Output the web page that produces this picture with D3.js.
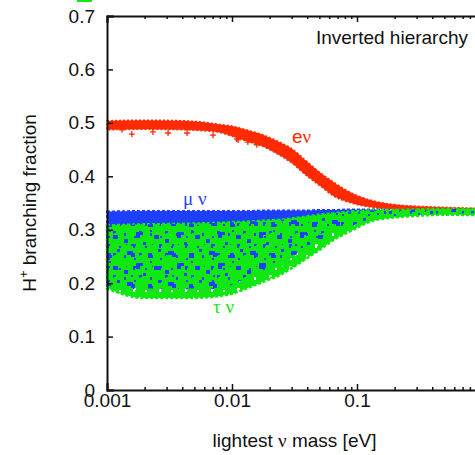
<!DOCTYPE html>
<html>
<head>
<meta charset="utf-8">
<script src="https://cdn.jsdelivr.net/npm/d3@7"></script>
<style>
  body { margin: 0; background: #fff; }
  svg { display: block; font-family: "Liberation Sans", Arial, sans-serif; }
  .axis text { font-size: 19px; fill: #111; }
  .axis .domain { stroke: #111; stroke-width: 2; }
  .axis line { stroke: #111; stroke-width: 1.5; }
  .greek { font-family: "Liberation Serif", serif; }
</style>
</head>
<body>
<svg width="475" height="455"></svg>
<script>
  // lightest neutrino mass grid [eV], shared by every band
  const mass = [0.001, 0.002, 0.004, 0.006, 0.008, 0.01, 0.013, 0.018, 0.025, 0.03,
    0.04, 0.05, 0.065, 0.09, 0.13, 0.2, 0.3, 0.5, 1];

  // e nu band (red)
  const eHi = [0.504, 0.505, 0.504, 0.501, 0.497, 0.494, 0.487, 0.477, 0.462, 0.452,
    0.427, 0.408, 0.389, 0.369, 0.355, 0.347, 0.344, 0.342, 0.340];
  const eLo = [0.487, 0.488, 0.487, 0.485, 0.482, 0.475, 0.466, 0.455, 0.437, 0.425,
    0.400, 0.383, 0.363, 0.350, 0.342, 0.338, 0.336, 0.335, 0.333];

  // mu nu band (blue)
  const muHi = [0.334, 0.335, 0.335, 0.335, 0.335, 0.335, 0.335, 0.336, 0.336, 0.336,
    0.336, 0.337, 0.337, 0.338, 0.338, 0.337, 0.336, 0.335, 0.334];
  const muLo = [0.195, 0.190, 0.190, 0.190, 0.192, 0.197, 0.210, 0.222, 0.240, 0.250,
    0.268, 0.280, 0.295, 0.308, 0.318, 0.324, 0.328, 0.330, 0.331];

  // tau nu band (green)
  const tauHi = [0.308, 0.310, 0.311, 0.312, 0.313, 0.314, 0.315, 0.317, 0.319, 0.321,
    0.325, 0.328, 0.331, 0.334, 0.336, 0.337, 0.338, 0.339, 0.339];
  const tauLo = [0.190, 0.172, 0.172, 0.173, 0.176, 0.180, 0.190, 0.203, 0.217, 0.228,
    0.247, 0.262, 0.281, 0.298, 0.316, 0.323, 0.326, 0.328, 0.327];

  // stray e nu points below the red band
  const eOutMass = [0.00132, 0.00158, 0.00233, 0.00308, 0.00437, 0.00705, 0.0109, 0.0112, 0.0134, 0.0158];
  const eOutVal  = [0.487, 0.479, 0.483, 0.481, 0.481, 0.477, 0.470, 0.468, 0.464, 0.459];

  const xMajor = [0.001, 0.01, 0.1, 1];
  const yTicks = [0, 0.1, 0.2, 0.3, 0.4, 0.5, 0.6, 0.7];

  const red = '#ff2a00', blue = '#1f3fff', green = '#11e811';

  const svg = d3.select('svg');
  const margin = { top: 16, left: 107, bottom: 65 };
  const plotRight = 482;
  const height = +svg.attr('height');
  const innerBottom = height - margin.bottom;

  const xScale = d3.scaleLog().domain([0.001, 1]).range([margin.left, plotRight]);
  const yScale = d3.scaleLinear().domain([0, 0.7]).range([innerBottom, margin.top]);

  const xMinor = [];
  [0.001, 0.01, 0.1].forEach(d => { for (let k = 2; k <= 9; k++) xMinor.push(d * k); });

  // textures so the overlapping scatter clouds look mixed
  const defs = svg.append('defs');
  defs.append('pattern')
      .attr('id', 'tauTex')
      .attr('patternUnits', 'userSpaceOnUse')
      .attr('width', 26).attr('height', 22)
    .append('path')
      .attr('fill', green)
      .attr('fill-rule', 'evenodd')
      .attr('d', 'M0,0H26V22H0Z M3,2h3v2h-1v2h-2z M15,4h2v2h-2z M9,11h3v2h-2v1h-1z ' +
                 'M20,13h2v3h-2z M4,16h2v2h-2z M22,2h1v1h-1z');
  defs.append('pattern')
      .attr('id', 'muTex')
      .attr('patternUnits', 'userSpaceOnUse')
      .attr('width', 41).attr('height', 31)
    .append('path')
      .attr('fill', blue)
      .attr('d', 'M4,3h6v2h2v4h-4v-2h-4z M25,5h4v2h1v3h-5z M13,15h7v3h-3v3h-4z ' +
                 'M31,18h5v4h-5z M1,22h4v4h-4z M20,25h3v3h-3z M35,1h3v3h-3z ' +
                 'M8,27h2v2h-2z M27,13h2v2h-2z');

  const band = (hi, lo) => d3.area()
    .x((d, i) => xScale(mass[i]))
    .y0((d, i) => yScale(lo[i]))
    .y1((d, i) => yScale(hi[i]))
    .curve(d3.curveMonotoneX)(mass);

  const g = svg.append('g');

  g.append('path').attr('d', band(eHi, eLo)).attr('fill', red)
      .attr('stroke', red).attr('stroke-width', 1.5).attr('stroke-dasharray', '2 2');

  const plus = (x, y, r) => `M${x - r},${y}H${x + r}M${x},${y - r}V${y + r}`;
  g.append('g').selectAll('path').data(eOutMass).enter().append('path')
      .attr('d', (d, i) => plus(xScale(d), yScale(eOutVal[i]), 3))
      .attr('stroke', red).attr('stroke-width', 1.3);

  g.append('path').attr('d', band(muHi, muLo)).attr('fill', blue)
      .attr('stroke', blue).attr('stroke-width', 2).attr('stroke-dasharray', '3 2');
  g.append('path').attr('d', band(tauHi, tauLo)).attr('fill', 'url(#tauTex)')
      .attr('stroke', green).attr('stroke-width', 2.5).attr('stroke-dasharray', '3 2');
  // blue points scattered on top of the green cloud where both overlap
  g.append('path').attr('d', band(tauHi, muLo)).attr('fill', 'url(#muTex)');

  // axes, ticks pointing inward
  svg.append('g').attr('class', 'axis')
      .attr('transform', `translate(0,${innerBottom})`)
      .call(d3.axisBottom(xScale).tickValues(xMajor).tickSize(-6).tickPadding(4)
        .tickFormat(d => d < 1 ? String(d) : ''));
  svg.append('g').attr('class', 'axis')
      .attr('transform', `translate(0,${innerBottom})`)
      .call(d3.axisBottom(xScale).tickValues(xMinor).tickSize(-3).tickFormat(''))
      .select('.domain').remove();

  svg.append('g').attr('class', 'axis')
      .attr('transform', `translate(0,${margin.top})`)
      .call(d3.axisTop(xScale).tickValues(xMajor).tickSize(-6).tickFormat(''));
  svg.append('g').attr('class', 'axis')
      .attr('transform', `translate(0,${margin.top})`)
      .call(d3.axisTop(xScale).tickValues(xMinor).tickSize(-3).tickFormat(''))
      .select('.domain').remove();

  svg.append('g').attr('class', 'axis')
      .attr('transform', `translate(${margin.left},0)`)
      .call(d3.axisLeft(yScale).tickValues(yTicks).tickSize(-6).tickPadding(12)
        .tickFormat(d => d === 0 ? '0' : d.toFixed(1)));

  svg.selectAll('.axis .domain').attr('stroke-linecap', 'square');

  // axis titles
  const xt = svg.append('text')
      .attr('x', (margin.left + plotRight) / 2).attr('y', 447)
      .attr('text-anchor', 'middle').attr('font-size', 19).attr('fill', '#111');
  xt.append('tspan').text('lightest ');
  xt.append('tspan').attr('class', 'greek').text('ν');
  xt.append('tspan').text(' mass [eV]');

  const yt = svg.append('text')
      .attr('transform', `translate(36,${(margin.top + innerBottom) / 2}) rotate(-90)`)
      .attr('text-anchor', 'middle').attr('font-size', 19).attr('fill', '#111');
  yt.append('tspan').text('H');
  yt.append('tspan').attr('font-size', 13).attr('dy', -8).text('+');
  yt.append('tspan').attr('dy', 8).text(' branching fraction');

  svg.append('text')
      .attr('x', 468).attr('y', 44).attr('text-anchor', 'end')
      .attr('font-size', 19).attr('fill', '#111')
      .text('Inverted hierarchy');

  // band labels
  const label = (x, y, color, parts) => {
    const t = svg.append('text').attr('x', x).attr('y', y)
      .attr('font-size', 19).attr('fill', color);
    parts.forEach(p => t.append('tspan').attr('class', p[1] ? 'greek' : null).text(p[0]));
  };
  label(292, 143, red, [['e', false], ['ν', true]]);
  label(183, 205, blue, [['μ ν', true]]);
  label(213, 313, green, [['τ ν', true]]);

  // bit of a key cut off at the top edge
  svg.append('rect').attr('x', 77).attr('y', 0).attr('width', 15).attr('height', 2).attr('fill', green);
</script>
</body>
</html>
